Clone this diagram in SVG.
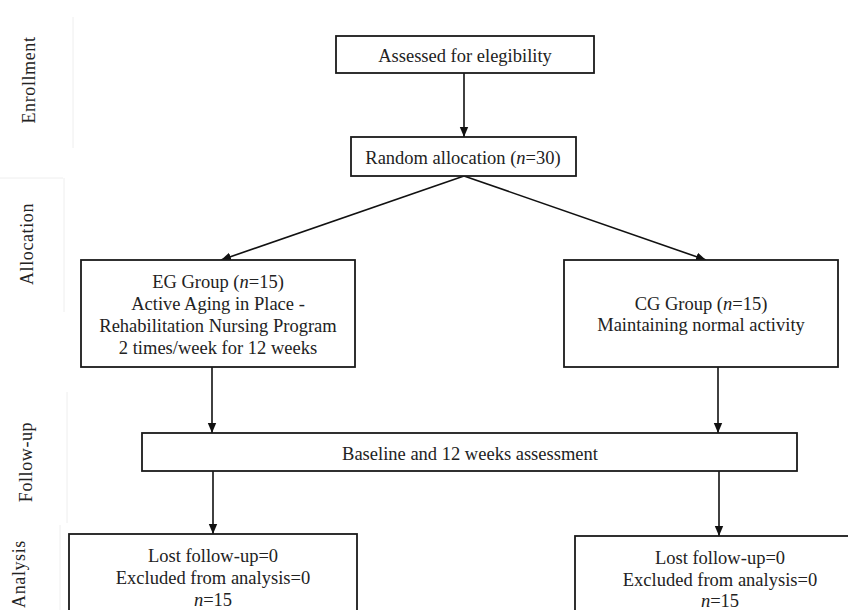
<svg xmlns="http://www.w3.org/2000/svg" width="848" height="610" viewBox="0 0 848 610">
<defs>
<marker id="ah" viewBox="0 0 10 10" refX="10" refY="5" markerWidth="10" markerHeight="10" markerUnits="userSpaceOnUse" orient="auto">
<path d="M0,0.8 L10,5 L0,9.2 Z" fill="#111"/>
</marker>
<style>
.box{fill:#fff;stroke:#1a1a1a;stroke-width:1.8}
.t{font-family:"Liberation Serif","Times New Roman",serif;font-size:18.5px;fill:#222;text-anchor:middle}
.side{font-family:"Liberation Serif","Times New Roman",serif;font-size:18px;letter-spacing:0.6px;fill:#222;text-anchor:middle}
.c{fill:none;stroke:#111;stroke-width:1.6}
.faint{fill:none;stroke:#eeeeee;stroke-width:1}
i,.it{font-style:italic}
</style>
</defs>
<rect width="848" height="610" fill="#fff"/>
<g id="phase-lines">
<line class="faint" x1="73" y1="17" x2="73" y2="148"/>
<line class="faint" x1="0" y1="178" x2="63" y2="178"/>
<line class="faint" x1="64" y1="178" x2="64" y2="312"/>
<line class="faint" x1="67" y1="392" x2="67" y2="523"/>
<line class="faint" x1="60" y1="525" x2="60" y2="610"/>
</g>
<g id="phase-labels">
<text class="side" transform="translate(35,80) rotate(-90)">Enrollment</text>
<text class="side" transform="translate(33,244) rotate(-90)">Allocation</text>
<text class="side" transform="translate(32,462) rotate(-90)">Follow-up</text>
<text class="side" transform="translate(25,574) rotate(-90)">Analysis</text>
</g>
<g id="connectors">
<line class="c" x1="464" y1="73" x2="464" y2="137" marker-end="url(#ah)"/>
<line class="c" x1="464" y1="176" x2="221" y2="260" marker-end="url(#ah)"/>
<line class="c" x1="464" y1="176" x2="706" y2="260" marker-end="url(#ah)"/>
<line class="c" x1="212" y1="367" x2="212" y2="433" marker-end="url(#ah)"/>
<line class="c" x1="718" y1="367" x2="718" y2="433" marker-end="url(#ah)"/>
<line class="c" x1="213" y1="471" x2="213" y2="534" marker-end="url(#ah)"/>
<line class="c" x1="719" y1="471" x2="719" y2="536" marker-end="url(#ah)"/>
</g>
<g id="assessed">
<rect class="box" x="336" y="36" width="258" height="37"/>
<text class="t" x="465" y="62">Assessed for elegibility</text>
</g>
<g id="random">
<rect class="box" x="351" y="137" width="225" height="39"/>
<text class="t" x="463" y="164">Random allocation (<tspan class="it">n</tspan>=30)</text>
</g>
<g id="eg-group">
<rect class="box" x="81" y="260" width="274" height="107"/>
<text class="t" x="218" y="288">EG Group (<tspan class="it">n</tspan>=15)</text>
<text class="t" x="218" y="310">Active Aging in Place -</text>
<text class="t" x="218" y="332">Rehabilitation Nursing Program</text>
<text class="t" x="218" y="354">2 times/week for 12 weeks</text>
</g>
<g id="cg-group">
<rect class="box" x="564" y="260" width="274" height="107"/>
<text class="t" x="701" y="310">CG Group (<tspan class="it">n</tspan>=15)</text>
<text class="t" x="701" y="331">Maintaining normal activity</text>
</g>
<g id="baseline">
<rect class="box" x="142" y="433" width="655" height="38"/>
<text class="t" x="470" y="460">Baseline and 12 weeks assessment</text>
</g>
<g id="eg-analysis">
<rect class="box" x="69" y="534" width="288" height="90"/>
<text class="t" x="213" y="562">Lost follow-up=0</text>
<text class="t" x="213" y="584">Excluded from analysis=0</text>
<text class="t" x="213" y="606"><tspan class="it">n</tspan>=15</text>
</g>
<g id="cg-analysis">
<rect class="box" x="575" y="536" width="290" height="90"/>
<text class="t" x="720" y="564">Lost follow-up=0</text>
<text class="t" x="720" y="586">Excluded from analysis=0</text>
<text class="t" x="720" y="607"><tspan class="it">n</tspan>=15</text>
</g>
</svg>
